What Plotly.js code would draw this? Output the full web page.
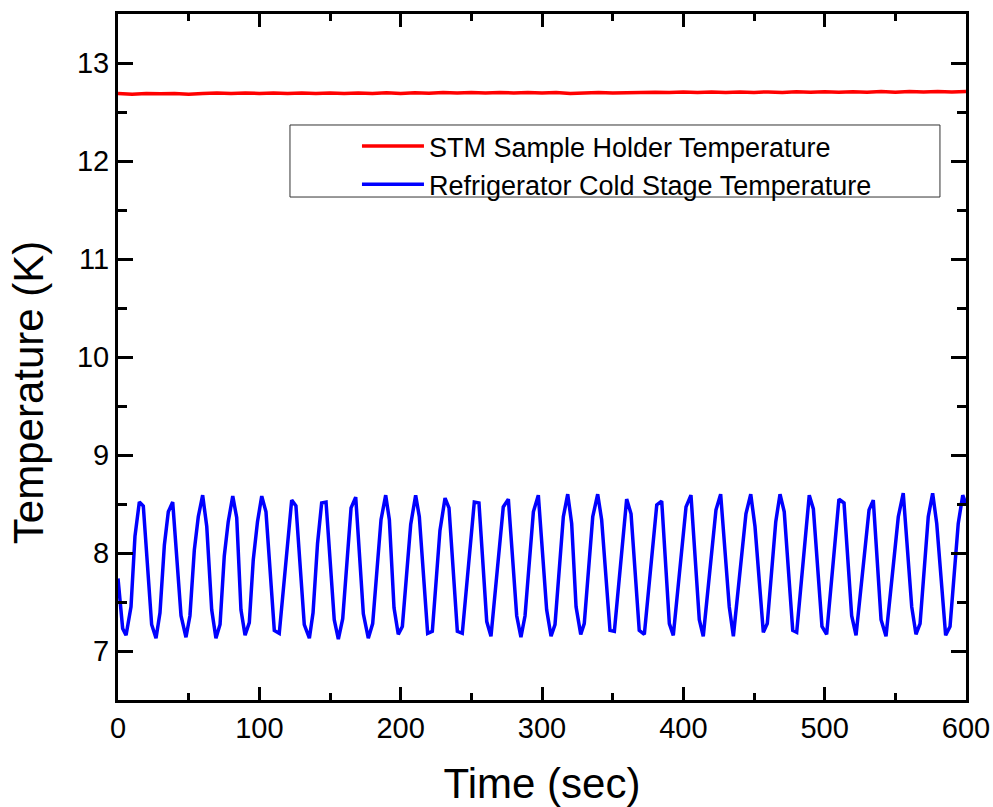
<!DOCTYPE html>
<html>
<head>
<meta charset="utf-8">
<script src="https://cdn.plot.ly/plotly-3.0.1.min.js"></script>
<style>html,body{margin:0;padding:0;background:#fff;}#chart{width:993px;height:807px;}</style>
</head>
<body>
<div id="chart"></div>
<script>
// Refrigerator cold stage temperature (time in sec, temperature in K)
const blueTime = [0,3.3,5.7,9.2,12.0,15.1,17.9,23.8,26.9,29.7,32.8,35.6,38.7,44.6,48.1,50.9,54.0,56.8,59.9,62.8,66.3,69.3,72.2,75.2,78.0,81.2,84.0,87.0,89.9,92.9,95.7,98.7,101.7,104.7,110.6,114.1,122.9,125.9,131.8,135.4,138.0,141.2,144.1,147.2,153.0,155.9,159.0,164.9,168.2,173.6,177.1,180.2,186.1,189.4,192.0,195.3,198.3,201.2,207.1,210.6,213.2,219.1,222.4,227.8,231.4,234.2,240.1,243.6,252.1,255.4,260.9,263.9,272.6,276.2,282.1,285.1,288.0,293.9,297.4,303.3,306.4,309.2,315.1,318.2,321.0,324.1,327.4,329.9,335.9,339.4,342.2,348.1,351.2,359.9,363.0,368.8,372.4,381.2,384.7,390.1,392.9,401.9,405.4,411.3,414.1,423.1,426.4,432.5,435.4,444.3,447.7,450.7,456.6,459.4,465.4,468.4,471.4,477.4,480.2,489.1,492.0,498.1,501.4,510.1,513.7,519.1,522.2,531.4,534.4,539.9,543.4,552.1,555.6,561.6,564.6,567.5,573.3,576.4,579.3,585.6,588.7,594.5,597.7,600];
const blueTemp = [7.74,7.23,7.16,7.45,8.17,8.52,8.48,7.27,7.13,7.39,8.08,8.42,8.52,7.36,7.14,7.36,8.03,8.37,8.59,8.27,7.42,7.13,7.27,7.97,8.32,8.58,8.36,7.42,7.16,7.29,7.93,8.32,8.58,8.42,7.21,7.18,8.54,8.48,7.27,7.13,7.39,8.10,8.51,8.52,7.32,7.12,7.33,8.46,8.57,7.38,7.13,7.28,8.34,8.59,8.34,7.44,7.17,7.25,8.29,8.59,8.37,7.18,7.20,8.23,8.56,8.46,7.20,7.18,8.52,8.51,7.30,7.15,8.47,8.55,7.36,7.14,7.36,8.42,8.59,7.42,7.15,7.27,8.37,8.60,8.30,7.45,7.17,7.28,8.37,8.60,8.34,7.21,7.20,8.55,8.40,7.21,7.17,8.49,8.53,7.28,7.16,8.47,8.59,7.32,7.15,8.44,8.60,7.45,7.15,8.40,8.60,8.27,7.19,7.28,8.32,8.60,8.42,7.21,7.19,8.59,8.45,7.25,7.17,8.55,8.51,7.36,7.16,8.44,8.54,7.32,7.15,8.37,8.61,7.45,7.17,7.28,8.37,8.61,8.30,7.16,7.25,8.30,8.59,8.50];

// STM sample holder temperature
const redTime = [0,10,20,30,40,50,60,70,80,90,100,110,120,130,140,150,160,170,180,190,200,210,220,230,240,250,260,270,280,290,300,310,320,330,340,350,360,370,380,390,400,410,420,430,440,450,460,470,480,490,500,510,520,530,540,550,560,570,580,590,600];
const redTemp = [12.69,12.68,12.69,12.685,12.69,12.68,12.69,12.695,12.69,12.695,12.69,12.695,12.69,12.695,12.69,12.695,12.69,12.695,12.69,12.697,12.69,12.697,12.692,12.698,12.693,12.699,12.694,12.699,12.695,12.70,12.695,12.70,12.69,12.697,12.70,12.695,12.70,12.697,12.702,12.698,12.703,12.698,12.704,12.699,12.705,12.70,12.705,12.70,12.706,12.701,12.706,12.701,12.707,12.702,12.708,12.702,12.708,12.703,12.709,12.704,12.71];

const seriesNames = ['STM Sample Holder Temperature','Refrigerator Cold Stage Temperature'];
const xTitle = 'Time (sec)';
const yTitle = 'Temperature (K)';

const FONT = 'Liberation Sans, Arial, sans-serif';

const traces = [
  {x: redTime, y: redTemp, mode:'lines', name: seriesNames[0], line:{color:'#ff0000', width:3.5}},
  {x: blueTime, y: blueTemp, mode:'lines', name: seriesNames[1], line:{color:'#0000ff', width:3.5}}
];

const axisCommon = {
  showline:true, linecolor:'#000', linewidth:3, mirror:'ticks',
  ticks:'inside', tickcolor:'#000', tickwidth:3,
  showgrid:false, zeroline:false,
  tickfont:{family:FONT, size:29, color:'#000'}
};

const layout = {
  width:993, height:807,
  margin:{l:118, r:27, t:14, b:107},
  paper_bgcolor:'#fff', plot_bgcolor:'#fff',
  font:{family:FONT, color:'#000'},
  showlegend:true,
  legend:{
    x:0.2818, y:0.8426, xanchor:'left', yanchor:'top',
    bgcolor:'rgba(0,0,0,0)', borderwidth:0,
    font:{family:FONT, size:27, color:'#000'},
    itemwidth:62, tracegroupgap:0
  },
  xaxis: Object.assign({}, axisCommon, {
    range:[0,600], tick0:0, dtick:100, ticklen:13,
    minor:{dtick:50, ticklen:7, tickwidth:3, tickcolor:'#000', ticks:'inside'},
    title:{text:xTitle, font:{family:FONT, size:42, color:'#000'}, standoff:28}
  }),
  yaxis: Object.assign({}, axisCommon, {
    range:[6.5,13.5], tick0:7, dtick:1, ticklen:15,
    minor:{dtick:0.5, ticklen:9, tickwidth:3, tickcolor:'#000', ticks:'inside'}
  }),
  shapes:[
    {type:'rect', xref:'paper', yref:'paper', x0:0.2028, x1:0.9693, y0:0.7332, y1:0.8382,
     line:{color:'#333', width:1}, fillcolor:'rgba(0,0,0,0)', layer:'below'}
  ],
  annotations:[
    {text:yTitle, xref:'paper', yref:'paper', x:-0.106, y:0.4475, xanchor:'center', yanchor:'middle',
     textangle:-90, showarrow:false, font:{family:FONT, size:42, color:'#000'}}
  ]
};

Plotly.newPlot('chart', traces, layout, {staticPlot:true, displayModeBar:false});
</script>
</body>
</html>
